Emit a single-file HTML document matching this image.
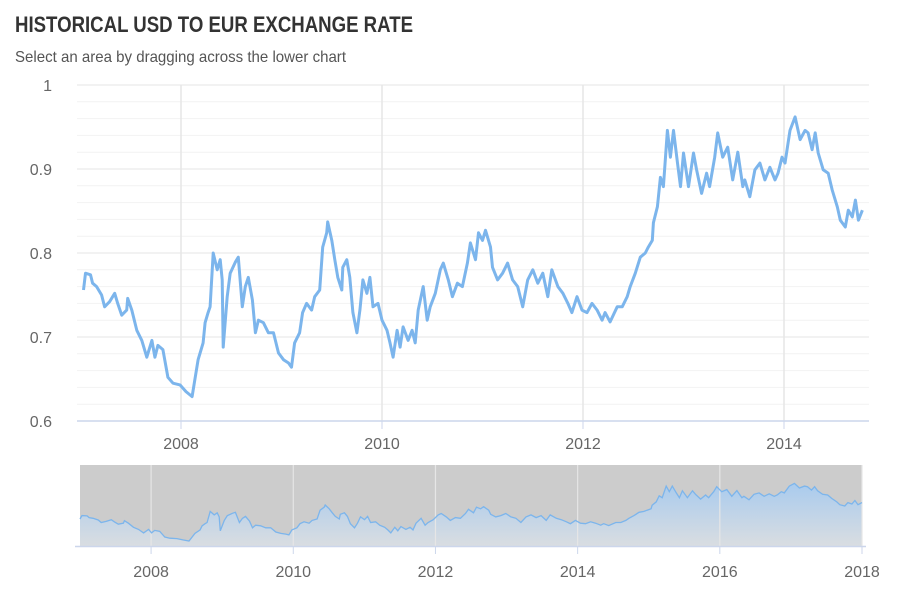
<!DOCTYPE html>
<html><head><meta charset="utf-8">
<style>
html,body{margin:0;padding:0;background:#fff;}
body{width:900px;height:600px;overflow:hidden;font-family:"Liberation Sans Narrow","Liberation Sans",sans-serif;}
svg text{font-family:"Liberation Sans Narrow","Liberation Sans",sans-serif;}
</style></head>
<body>
<svg id="chart" width="900" height="600" xmlns="http://www.w3.org/2000/svg">
<text x="15" y="32" font-size="22" font-weight="bold" fill="#333" textLength="398" lengthAdjust="spacingAndGlyphs">HISTORICAL USD TO EUR EXCHANGE RATE</text>
<text x="15" y="62" font-size="16" fill="#555" textLength="331" lengthAdjust="spacingAndGlyphs">Select an area by dragging across the lower chart</text>
<defs><linearGradient id="navGrad" x1="0" y1="0" x2="0" y2="1"><stop offset="0" stop-color="#a9cbee"/><stop offset="1" stop-color="#d9dde1"/></linearGradient></defs>
<g id="main"></g>
<g id="nav"></g>
</svg>
<script>
const years = [2007.03,2007.05,2007.10,2007.12,2007.16,2007.21,2007.24,2007.29,2007.34,2007.37,2007.41,2007.46,2007.47,2007.51,2007.56,2007.61,2007.66,2007.71,2007.74,2007.77,2007.82,2007.87,2007.92,2007.99,2008.05,2008.11,2008.17,2008.22,2008.24,2008.27,2008.29,2008.32,2008.36,2008.39,2008.41,2008.42,2008.46,2008.49,2008.54,2008.57,2008.61,2008.64,2008.67,2008.71,2008.74,2008.77,2008.82,2008.87,2008.92,2008.97,2009.02,2009.07,2009.10,2009.13,2009.18,2009.21,2009.25,2009.30,2009.33,2009.38,2009.41,2009.45,2009.46,2009.50,2009.53,2009.56,2009.60,2009.61,2009.65,2009.68,2009.71,2009.75,2009.78,2009.81,2009.85,2009.88,2009.91,2009.96,2010.00,2010.05,2010.08,2010.11,2010.15,2010.18,2010.21,2010.26,2010.30,2010.33,2010.36,2010.41,2010.45,2010.48,2010.53,2010.58,2010.61,2010.66,2010.70,2010.75,2010.80,2010.85,2010.88,2010.93,2010.96,2011.00,
2011.03,2011.08,2011.10,2011.15,2011.20,2011.25,2011.30,2011.35,2011.40,2011.45,2011.50,2011.55,2011.60,2011.65,2011.69,2011.75,2011.80,2011.85,2011.89,2011.94,2011.99,2012.04,2012.09,2012.14,2012.19,2012.22,2012.27,2012.34,2012.39,2012.44,2012.47,2012.52,2012.57,2012.62,2012.65,2012.69,2012.70,2012.74,2012.77,2012.80,2012.84,2012.87,2012.90,2012.94,2012.97,2013.00,2013.05,2013.10,2013.13,2013.18,2013.23,2013.26,2013.31,2013.34,2013.39,2013.44,2013.49,2013.54,2013.59,2013.61,2013.66,2013.71,2013.76,2013.81,2013.86,2013.91,2013.94,2013.98,2014.01,2014.06,2014.11,2014.16,2014.21,2014.24,2014.28,2014.31,2014.34,2014.39,2014.44,2014.48,2014.53,2014.56,2014.61,2014.64,2014.68,2014.71,2014.74,2014.78];
const rates = [0.756,0.776,0.774,0.764,0.760,0.750,0.736,0.742,0.752,0.740,0.726,0.732,0.746,0.732,0.708,0.696,0.676,0.696,0.676,0.690,0.685,0.652,0.645,0.643,0.635,0.629,0.673,0.693,0.717,0.729,0.736,0.800,0.780,0.792,0.768,0.688,0.748,0.776,0.789,0.795,0.736,0.760,0.771,0.744,0.705,0.720,0.717,0.705,0.705,0.681,0.673,0.669,0.664,0.693,0.705,0.729,0.740,0.732,0.748,0.756,0.807,0.824,0.837,0.815,0.792,0.771,0.756,0.783,0.792,0.771,0.729,0.705,0.732,0.768,0.752,0.771,0.736,0.740,0.720,0.708,0.693,0.676,0.708,0.688,0.712,0.696,0.708,0.693,0.732,0.760,0.720,0.736,0.752,0.780,0.788,0.768,0.748,0.764,0.760,0.788,0.812,0.792,0.824,0.815,
0.827,0.807,0.783,0.768,0.776,0.788,0.768,0.760,0.736,0.768,0.780,0.764,0.776,0.748,0.780,0.760,0.752,0.740,0.729,0.748,0.732,0.729,0.740,0.732,0.720,0.729,0.718,0.736,0.736,0.748,0.760,0.776,0.795,0.800,0.807,0.815,0.836,0.855,0.890,0.879,0.946,0.914,0.946,0.907,0.879,0.919,0.879,0.919,0.899,0.871,0.895,0.879,0.914,0.943,0.914,0.926,0.887,0.920,0.879,0.887,0.867,0.899,0.907,0.887,0.902,0.887,0.895,0.914,0.907,0.946,0.962,0.935,0.946,0.943,0.923,0.943,0.919,0.899,0.895,0.875,0.855,0.839,0.831,0.851,0.843,0.863,0.839,0.851,0.836];
const yTicks = [0.6,0.7,0.8,0.9,1];
const xTickYears = [2008,2010,2012,2014];
const navTickYears = [2008,2010,2012,2014,2016,2018];

const NS = "http://www.w3.org/2000/svg";
function mk(parent, tag, attrs){const e=document.createElementNS(NS,tag);for(const k in attrs)e.setAttribute(k,attrs[k]);parent.appendChild(e);return e;}
const main=document.getElementById('main'), nav=document.getElementById('nav');
// main axes
const L=77,R=869,T=85,B=421;
const xMain = t => 80.5 + (t-2007)*100.5;
const yMain = v => B - (v-0.6)/0.4*(B-T);
for(let v=0.62; v<1.0; v+=0.02){
  const l=mk(main,'line',{x1:L,x2:R,y1:yMain(v),y2:yMain(v),stroke:'#f2f2f2','stroke-width':1});
  
  
}
yTicks.forEach(v=>{
  const l=mk(main,'line',{x1:L,x2:R,y1:yMain(v),y2:yMain(v),stroke:'#e6e6e6','stroke-width':1});
  
  
  const t=mk(main,'text',{x:52,y:yMain(v)+6,'text-anchor':'end','font-size':16,fill:'#666'});
  t.textContent=String(v);
  
  
});
xTickYears.forEach(yr=>{
  const x=xMain(yr);
  const l=mk(main,'line',{x1:x,x2:x,y1:T,y2:B,stroke:'#e6e6e6','stroke-width':1.5});
  
  
  const tk=mk(main,'line',{x1:x,x2:x,y1:B,y2:B+8,stroke:'#ccd6eb','stroke-width':1});
  
  
  const t=mk(main,'text',{x:x,y:449,'text-anchor':'middle','font-size':16,fill:'#666'});
  t.textContent=String(yr);
  
  
});
const ax=mk(main,'line',{x1:L,x2:R,y1:B,y2:B,stroke:'#ccd6eb','stroke-width':1.5});


let d='';
years.forEach((t,i)=>{d+=(i?'L':'M')+xMain(t).toFixed(1)+','+yMain(rates[i]).toFixed(1);});
const line=mk(main,'path',{d:d,fill:'none',stroke:'#7cb5ec','stroke-width':3,'stroke-linejoin':'round'});



// navigator
const NL=80,NR=862,NT=465,NB=546;
const t0=years[0], t1=years[years.length-1];
const xNavData = t => NL + (t-t0)/(t1-t0)*(NR-NL);
const xNavAxis = yr => NL + (yr-2007)/11*(NR-NL);
const yNav = v => NB - (v-0.6)*173;
const bg=mk(nav,'rect',{x:NL,y:NT,width:NR-NL,height:NB-NT,fill:'#cccccc'});


let ad='M'+NL+','+NB, ld='';
years.forEach((t,i)=>{const p=xNavData(t).toFixed(1)+','+yNav(rates[i]).toFixed(1);ad+='L'+p;ld+=(i?'L':'M')+p;});
ad+='L'+NR+','+NB+'Z';
const area=mk(nav,'path',{d:ad,fill:'url(#navGrad)'});


navTickYears.forEach(yr=>{
  const x=xNavAxis(yr);
  const l=mk(nav,'line',{x1:x,x2:x,y1:NT,y2:NB,stroke:'#e6e6e6','stroke-width':1.2});
  
  
  const tk=mk(nav,'line',{x1:x,x2:x,y1:NB,y2:NB+8,stroke:'#ccd6eb','stroke-width':1});
  
  
  const t=mk(nav,'text',{x:x,y:577,'text-anchor':'middle','font-size':16,fill:'#666'});
  t.textContent=String(yr);
  
  
});
const nl=mk(nav,'path',{d:ld,fill:'none',stroke:'#7cb5ec','stroke-width':1.3});


const nax=mk(nav,'line',{x1:75,x2:866,y1:NB+0.5,y2:NB+0.5,stroke:'#ccd6eb','stroke-width':1.5});


</script>
</body></html>
